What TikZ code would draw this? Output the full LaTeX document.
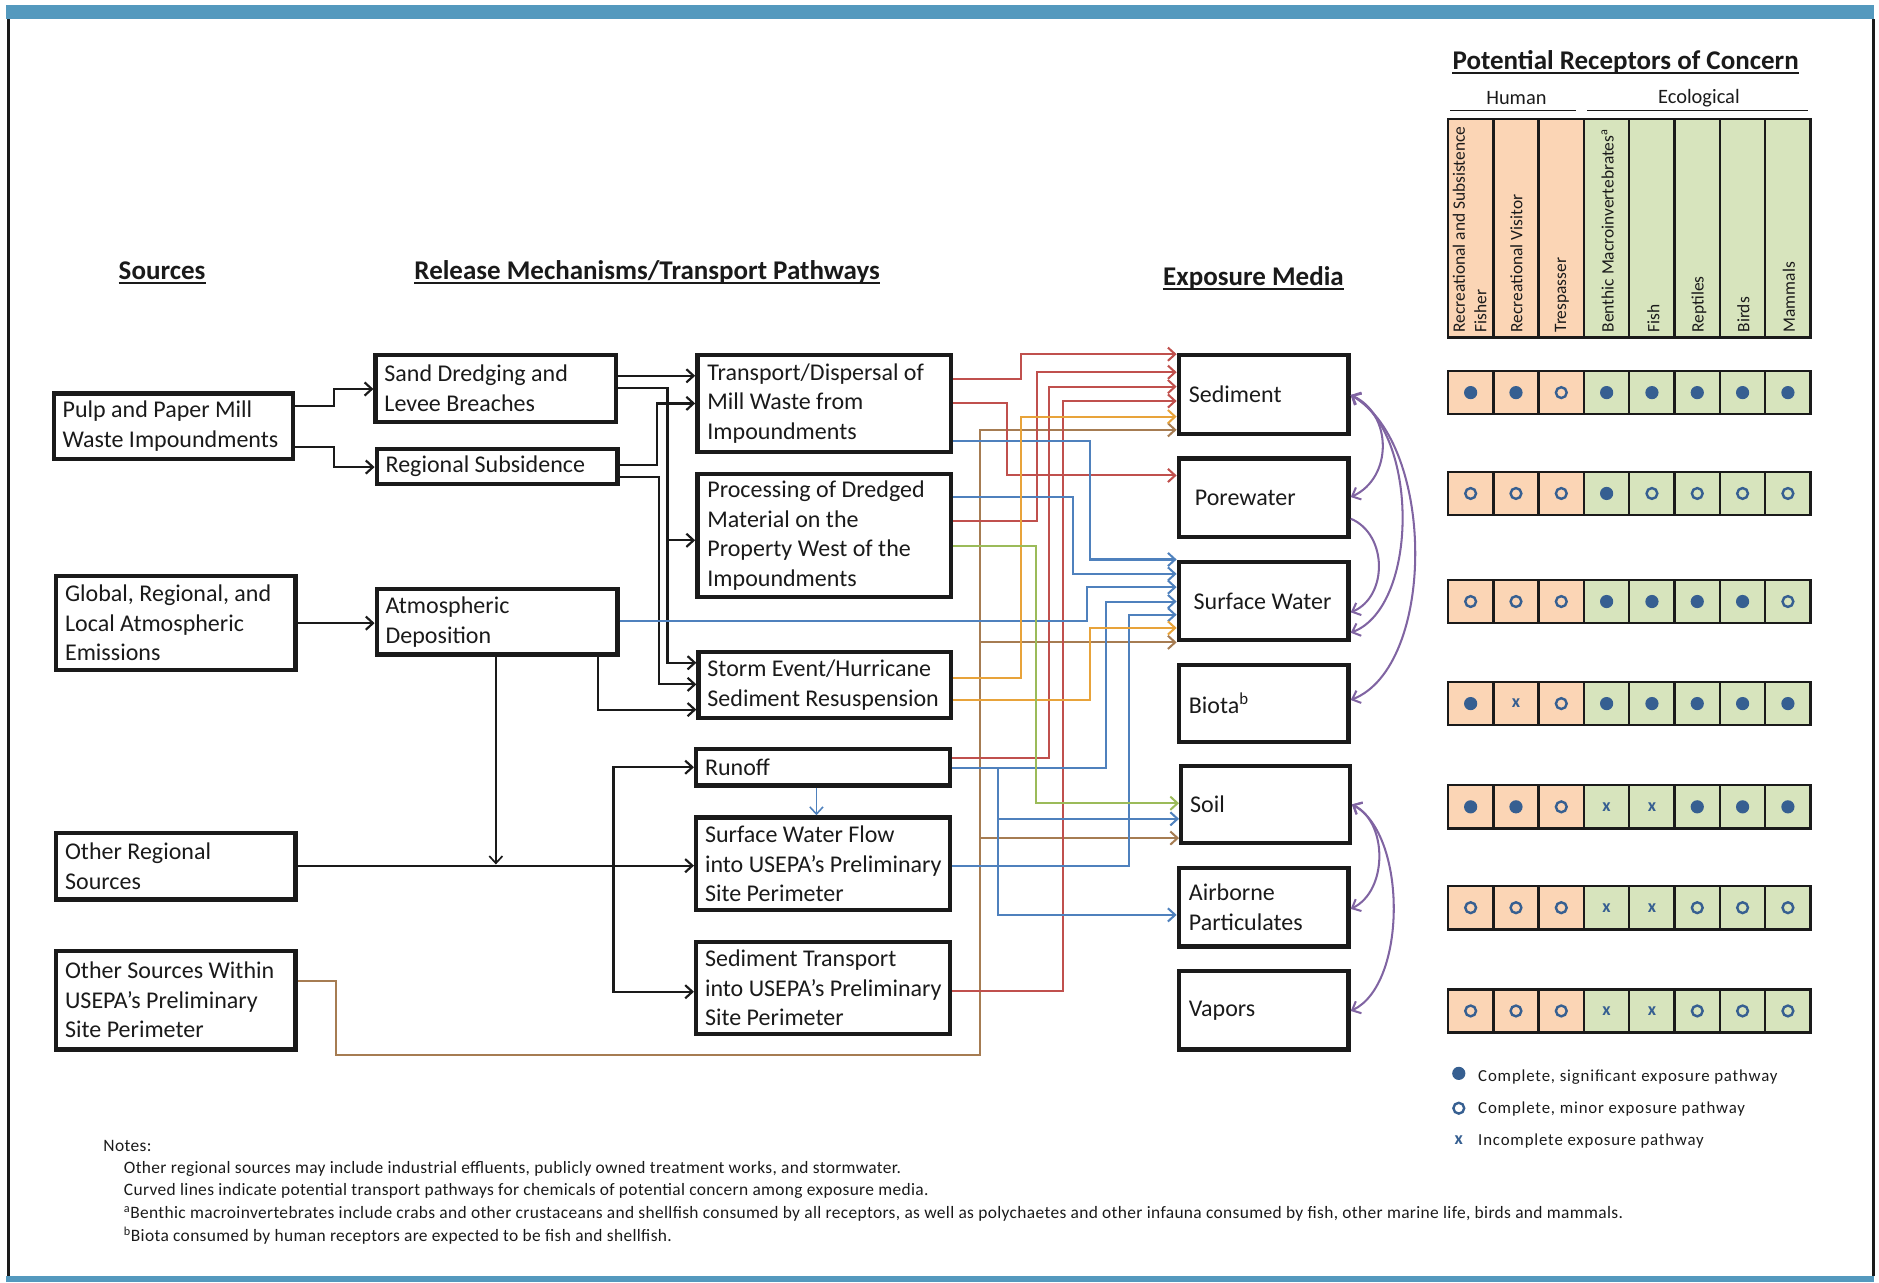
\documentclass[tikz,border=0pt]{standalone}
\usepackage{fontspec}
\setmainfont{Carlito}
\usetikzlibrary{arrows.meta}
\definecolor{frameblue}{RGB}{84,153,190}
\definecolor{ink}{RGB}{26,26,26}
\definecolor{cred}{RGB}{192,80,77}
\definecolor{cblue}{RGB}{79,129,189}
\definecolor{corange}{RGB}{232,163,58}
\definecolor{cgreen}{RGB}{155,187,89}
\definecolor{cbrown}{RGB}{166,124,82}
\definecolor{cpurple}{RGB}{128,100,162}
\definecolor{peach}{RGB}{251,213,181}
\definecolor{lgreen}{RGB}{215,228,189}
\definecolor{dotblue}{RGB}{54,95,145}
\tikzset{
 srcbox/.style={draw=ink, line width=3.6pt, anchor=north west, inner sep=0pt},
 boxtxt/.style={anchor=west, align=left, inner sep=0pt, text=ink, font=\fontsize{20}{24.5}\selectfont},
 hd/.style={anchor=base, inner sep=0pt, text=ink, font=\bfseries\fontsize{22.5}{26}\selectfont},
 blk/.style={draw=ink, line width=1.8pt, -{Straight Barb[length=6pt,width=11pt]}},
 conn/.style={line width=1.7pt, -{Straight Barb[length=6pt,width=11pt]}},
 pur/.style={draw=cpurple, line width=1.7pt},
 purboth/.style={pur, {Straight Barb[length=6pt,width=11pt]}-{Straight Barb[length=6pt,width=11pt]}},
 purone/.style={pur, -{Straight Barb[length=6pt,width=11pt]}},
 rot/.style={rotate=90, anchor=west, inner sep=0pt, text=ink, font=\fontsize{14.5}{16}\selectfont},
 note/.style={anchor=base west, inner sep=0pt, text=ink, font=\fontsize{14.5}{16}\selectfont\addfontfeatures{LetterSpace=2}},
 leg/.style={anchor=west, inner sep=0pt, text=ink, font=\fontsize{14}{16}\selectfont\addfontfeatures{LetterSpace=5}},
 xmark/.style={inner sep=0pt, text=dotblue, font=\bfseries\fontsize{15}{15}\selectfont},
 grp/.style={inner sep=0pt, text=ink, font=\fontsize{17}{20}\selectfont},
}
\newcommand{\mybox}[7]{%
 \pgfmathsetmacro\bw{#4-3.6}\pgfmathsetmacro\bh{#5-3.6}%
 \node[srcbox, minimum width=\bw pt, minimum height=\bh pt] (#1) at (#2,#3) {};
 \node[boxtxt] (#1-t) at ([xshift=#6pt]#1.west) {#7};}
\newcommand{\symF}[3]{\fill[dotblue] (#1,#2) circle (5.5pt);}
\newcommand{\symO}[3]{\draw[dotblue, line width=2pt] (#1,#2) circle (4.5pt);}
\newcommand{\symX}[3]{\node[xmark] (x#3) at (#1,#2) {x};}
\begin{document}
\begin{tikzpicture}[x=1pt,y=-1pt]
\useasboundingbox (0,0) rectangle (1565,1068);
% frame
\fill[frameblue] (5,4) rectangle (1561,16);
\fill[frameblue] (5,1063) rectangle (1561,1068);
\draw[ink, line width=2.5pt] (7,16) -- (7,1063);
\draw[ink, line width=2.5pt] (1560,16) -- (1560,1063);

% headings
\node[hd] (hsrc) at (135,233) {Sources};
\node[hd] (hrel) at (539,233) {Release Mechanisms/Transport Pathways};
\node[hd] (hexp) at (1044,238) {Exposure Media};
\node[hd] (hrec) at (1354,57.5) {Potential Receptors of Concern};
\foreach \n in {hsrc,hrel,hexp,hrec}
  \draw[ink, line width=1.6pt] ([yshift=-3pt]\n.base west) -- ([yshift=-3pt]\n.base east);
\node[grp] (hhum) at (1263,82) {Human};
\node[grp] (heco) at (1415,82) {Ecological};
\draw[ink, line width=1.5pt] (1208,92) -- (1313,92);
\draw[ink, line width=1.5pt] (1322,92) -- (1506,92);

% source and release boxes
\mybox{pulp}{43}{326}{203}{58}{9}{Pulp and Paper Mill\\Waste Impoundments}
\mybox{global}{45}{478}{203}{82}{9}{Global, Regional, and\\Local Atmospheric\\Emissions}
\mybox{otherreg}{45}{692}{203}{59}{9}{Other Regional\\Sources}
\mybox{within}{45}{790}{203}{86}{9}{Other Sources Within\\USEPA’s Preliminary\\Site Perimeter}
\mybox{sand}{311}{294}{204}{59}{9}{Sand Dredging and\\Levee Breaches}
\mybox{subs}{312}{372}{204}{33}{9}{Regional Subsidence}
\mybox{atm}{312}{489}{204}{58}{9}{Atmospheric\\Deposition}
\mybox{trans}{579}{294}{215}{84}{10}{Transport/Dispersal of\\Mill Waste from\\Impoundments}
\mybox{proc}{579}{393}{215}{106}{10}{Processing of Dredged\\Material on the\\Property West of the\\Impoundments}
\mybox{storm}{580}{541}{214}{59}{9}{Storm Event/Hurricane\\Sediment Resuspension}
\mybox{runoff}{578}{622}{215}{34}{9}{Runoff}
\mybox{swf}{578}{679}{215}{81}{9}{Surface Water Flow\\into USEPA’s Preliminary\\Site Perimeter}
\mybox{sedtr}{578}{783}{215}{80}{9}{Sediment Transport\\into USEPA’s Preliminary\\Site Perimeter}

% exposure media
\mybox{sed}{980}{294}{145}{69}{10}{Sediment}
\mybox{pore}{980}{380}{145}{69}{15}{Porewater}
\mybox{sw}{980}{466}{145}{69}{14}{Surface Water}
\mybox{biota}{980}{552}{145}{68}{10}{Biota\textsuperscript{b}}
\mybox{soil}{982}{636}{144}{68}{9}{Soil}
\mybox{air}{980}{721}{145}{69}{10}{Airborne\\Particulates}
\mybox{vap}{980}{807}{145}{69}{10}{Vapors}

% black connectors
\draw[blk] (pulp.east |- 0,338) -| (278,324) -- (sand.west |- 0,324);
\draw[blk] (pulp.east |- 0,372) -| (278,389) -- (subs.west |- 0,389);
\draw[blk] (global.east |- 0,519) -- (atm.west |- 0,519);
\draw[blk] (sand.east |- 0,313) -- (trans.west |- 0,313);
\draw[blk] (sand.east |- 0,323) -| (556,552) -- (storm.west |- 0,552);
\draw[blk] (556,450) -- (proc.west |- 0,450);
\draw[blk] (subs.east |- 0,387) -| (547,336) -- (trans.west |- 0,336);
\draw[blk] (subs.east |- 0,397) -| (549,570) -- (storm.west |- 0,570);
\draw[blk] (atm.south -| 498,0) |- (storm.west |- 0,591);
\draw[blk, line width=1.4pt] (atm.south -| 413,0) -- (413,720);
\draw[blk] (otherreg.east |- 0,721) -- (swf.west |- 0,721);
\draw[blk] (511,721) |- (runoff.west |- 0,639);
\draw[blk] (511,721) |- (sedtr.west |- 0,826);

% coloured connectors
\draw[conn,cbrown] (within.east |- 0,817) -| (280,879) -| (816,358) -- (sed.west |- 0,358);
\draw[conn,cbrown] (816,535) -- (sw.west |- 0,535);
\draw[conn,cbrown] (816,698) -- (soil.west |- 0,698);
\draw[conn,cred] (trans.east |- 0,316) -| (850,295) -- (sed.west |- 0,295);
\draw[conn,cred] (trans.east |- 0,336) -| (839,396) -- (pore.west |- 0,396);
\draw[conn,cred] (proc.east |- 0,434) -| (864,310) -- (sed.west |- 0,310);
\draw[conn,cred] (runoff.east |- 0,631) -| (874,322) -- (sed.west |- 0,322);
\draw[conn,cred] (sedtr.east |- 0,825) -| (885,334) -- (sed.west |- 0,334);
\draw[conn,cblue] (trans.east |- 0,367) -| (908,466) -- (sw.west |- 0,466);
\draw[conn,cblue] (proc.east |- 0,414) -| (894,478) -- (sw.west |- 0,478);
\draw[conn,cblue] (atm.east |- 0,517) -| (905,489) -- (sw.west |- 0,489);
\draw[conn,cblue] (runoff.east |- 0,640) -| (921,501) -- (sw.west |- 0,501);
\draw[conn,cblue] (swf.east |- 0,721) -| (940,512) -- (sw.west |- 0,512);
\draw[conn,cblue] (831,640) |- (soil.west |- 0,682);
\draw[conn,cblue] (831,640) |- (air.west |- 0,762);
\draw[conn,cblue, line width=1.3pt] (runoff.south -| 680,0) -- (swf.north -| 680,0);
\draw[conn,corange] (storm.east |- 0,565) -| (850,347) -- (sed.west |- 0,347);
\draw[conn,corange] (storm.east |- 0,583) -| (908,523) -- (sw.west |- 0,523);
\draw[conn,cgreen] (proc.east |- 0,455) -| (863,669) -- (soil.west |- 0,669);

% purple curves between media
\draw[purboth] (sed.east |- 0,329) .. controls (1160,345) and (1160,398) .. (pore.east |- 0,414);
\draw[purboth] (sed.east |- 0,329) .. controls (1182,360) and (1182,505) .. (sw.east |- 0,527);
\draw[purboth] (sed.east |- 0,329) .. controls (1196,370) and (1196,555) .. (biota.east |- 0,583);
\draw[purone] (pore.east |- 0,432) .. controls (1156,445) and (1156,497) .. (sw.east |- 0,510);
\draw[purboth] (soil.east |- 0,670) .. controls (1156,685) and (1156,742) .. (air.east |- 0,757);
\draw[purboth] (soil.east |- 0,670) .. controls (1172,695) and (1172,820) .. (vap.east |- 0,842);

% receptor header
\foreach \c in {0,...,7}{
  \pgfmathsetmacro\xa{1206+\c*37.75}
  \pgfmathsetmacro\xb{\xa+37.75}
  \ifnum\c<3 \def\cc{peach}\else\def\cc{lgreen}\fi
  \filldraw[fill=\cc, draw=ink, line width=2pt] (\xa,99) rectangle (\xb,281);
}
\node[rot] (rh1) at (1215,277) {Recreational and Subsistence};
\node[rot] (rh1b) at (1233,277) {Fisher};
\node[rot] (rh2) at (1263,277) {Recreational Visitor};
\node[rot] (rh3) at (1301,277) {Trespasser};
\node[rot] (rh4) at (1339,277) {Benthic Macroinvertebrates\textsuperscript{a}};
\node[rot] (rh5) at (1377,277) {Fish};
\node[rot] (rh6) at (1415,277) {Reptiles};
\node[rot] (rh7) at (1452,277) {Birds};
\node[rot] (rh8) at (1490,277) {Mammals};

% receptor rows
\foreach \r/\yt/\vals in {1/309/{F,F,O,F,F,F,F,F}, 2/393/{O,O,O,F,O,O,O,O}, 3/483/{O,O,O,F,F,F,F,O}, 4/568/{F,X,O,F,F,F,F,F}, 5/654/{F,F,O,X,X,F,F,F}, 6/738/{O,O,O,X,X,O,O,O}, 7/824/{O,O,O,X,X,O,O,O}}{
  \foreach \v [count=\c from 0] in \vals {
    \pgfmathsetmacro\xa{1206+\c*37.75}
    \pgfmathsetmacro\xb{\xa+37.75}
    \pgfmathsetmacro\xm{\xa+18.875}
    \pgfmathsetmacro\ym{\yt+18}
    \pgfmathsetmacro\yb{\yt+36}
    \ifnum\c<3 \def\cc{peach}\else\def\cc{lgreen}\fi
    \filldraw[fill=\cc, draw=ink, line width=2pt] (\xa,\yt) rectangle (\xb,\yb);
    \csname sym\v\endcsname{\xm}{\ym}{\r-\c}
  }
}

% legend
\fill[dotblue] (1215,894) circle (5.5pt);
\draw[dotblue, line width=2pt] (1215,923) circle (4.5pt);
\node[xmark] (lx) at (1215,950) {x};
\node[leg] (l1) at (1231,897) {Complete, significant exposure pathway};
\node[leg] (l2) at (1231,924) {Complete, minor exposure pathway};
\node[leg] (l3) at (1231,950) {Incomplete exposure pathway};

% notes
\node[note] (n0) at (86,959) {Notes:};
\node[note] (n1) at (103,977) {Other regional sources may include industrial effluents, publicly owned treatment works, and stormwater.};
\node[note] (n2) at (103,996) {Curved lines indicate potential transport pathways for chemicals of potential concern among exposure media.};
\node[note] (n3) at (103,1015) {\textsuperscript{a}Benthic macroinvertebrates include crabs and other crustaceans and shellfish consumed by all receptors, as well as polychaetes and other infauna consumed by fish, other marine life, birds and mammals.};
\node[note] (n4) at (103,1034) {\textsuperscript{b}Biota consumed by human receptors are expected to be fish and shellfish.};
\end{tikzpicture}
\end{document}
